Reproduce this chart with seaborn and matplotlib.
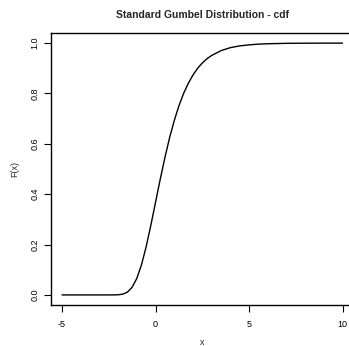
import matplotlib
matplotlib.use("Agg")

import pandas as pd
import matplotlib.pyplot as plt
import seaborn as sns

# values
x_vals = [-5, -4, -3, -2.5, -2.25, -2, -1.75, -1.5, -1.25, -1, -0.75, -0.5,
          -0.25, 0, 0.25, 0.5, 0.75, 1, 1.25, 1.5, 1.75, 2, 2.25, 2.5,
          2.75, 3, 3.5, 4, 4.5, 5, 5.5, 6, 7, 8, 9, 10]
cdf_vals = [0.0, 0.0, 0.0, 0.0, 0.0001, 0.0006, 0.0032, 0.0113, 0.0305,
            0.066, 0.120, 0.192, 0.277, 0.368, 0.459, 0.545, 0.624, 0.692,
            0.751, 0.800, 0.840, 0.873, 0.900, 0.921, 0.938, 0.951, 0.970,
            0.982, 0.989, 0.993, 0.996, 0.9975, 0.9991, 0.9997, 0.9999, 1.0]
x_ticks = [-5, 0, 5, 10]
y_ticks = [0.0, 0.2, 0.4, 0.6, 0.8, 1.0]

df = pd.DataFrame({"x": x_vals, "F": cdf_vals})

sns.set_style("ticks")
plt.rcParams["font.family"] = ["Liberation Sans", "DejaVu Sans"]

fig = plt.figure(figsize=(3.49, 3.46), dpi=100)
ax = fig.add_axes([0.1456, 0.1185, 0.868, 0.786])

sns.lineplot(data=df, x="x", y="F", ax=ax, color="black", linewidth=1.0)

ax.set_xlim(-5.6, 10.6)
ax.set_ylim(-0.04, 1.04)
ax.set_xticks(x_ticks)
ax.set_xticklabels(["-5", "0", "5", "10"])
ax.set_yticks(y_ticks)
ax.set_yticklabels(["0.0", "0.2", "0.4", "0.6", "0.8", "1.0"],
                   rotation=90, va="center")

for s in ax.spines.values():
    s.set_visible(True)
    s.set_linewidth(1.0)
    s.set_color("black")

ax.tick_params(direction="out", length=5, width=0.8, labelsize=6.5,
               colors="black")
ax.tick_params(axis="x", pad=6)
ax.tick_params(axis="y", pad=3)

ax.set_xlabel("x", fontsize=6.5, labelpad=6)
ax.set_ylabel("F(x)", fontsize=6.5, labelpad=8)
ax.set_title("Standard Gumbel Distribution - cdf", fontsize=7.5,
             fontweight="bold", pad=11)

fig.savefig("out.png", dpi=100)
